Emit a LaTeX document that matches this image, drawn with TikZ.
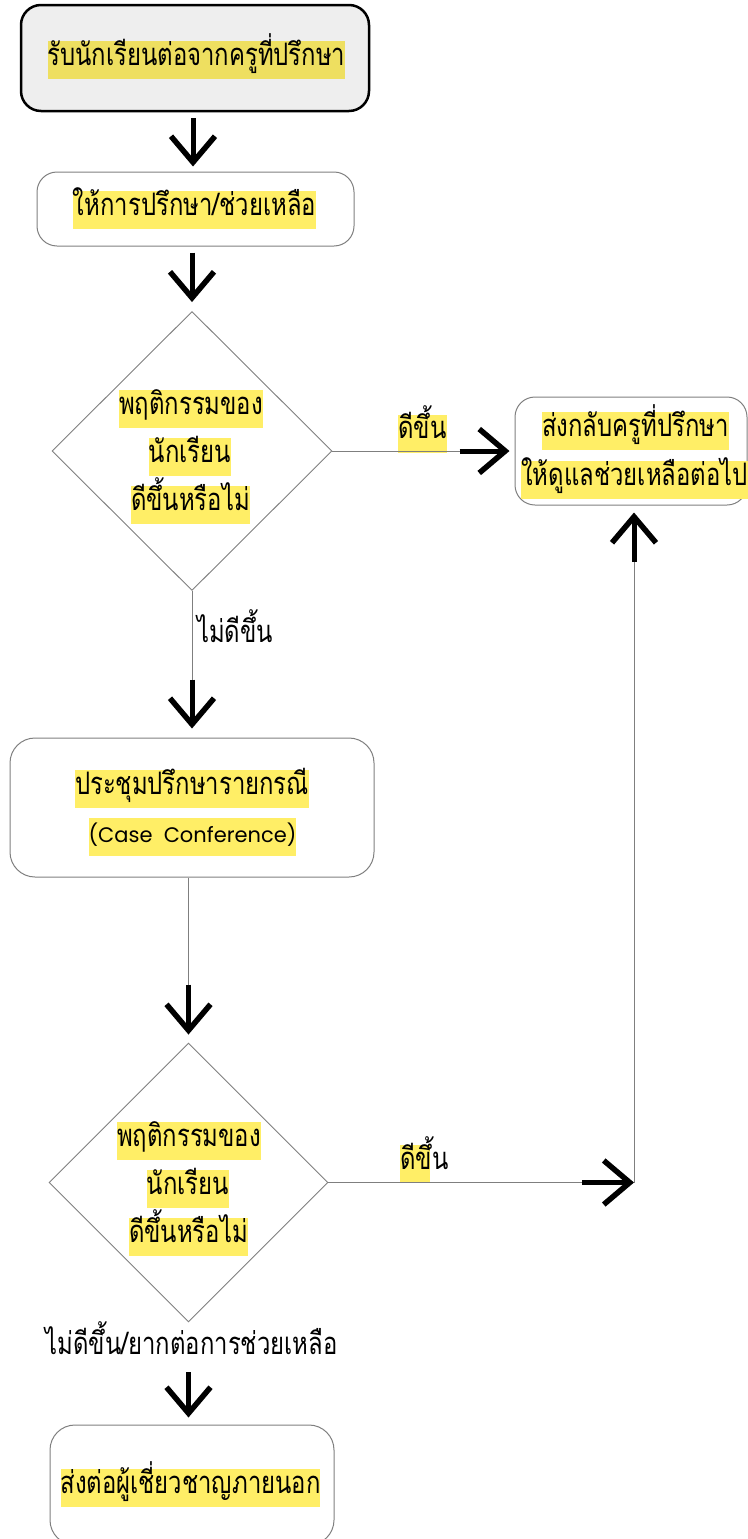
\documentclass[tikz,border=0pt]{standalone}
\usepackage{fontspec}
\setmainfont[Script=Thai,FakeStretch=0.77]{Loma}
\newfontfamily\latinfont{Poppins}
\usetikzlibrary{shapes.geometric,arrows.meta,calc}
\definecolor{hly}{HTML}{FFEE66}
\definecolor{hlg}{HTML}{EEDF60}
\definecolor{boxgray}{HTML}{EEEEEE}
\definecolor{ln}{HTML}{7F7F7F}
\tikzset{
  box/.style={draw=ln, line width=1pt, rounded corners=20pt, inner sep=0pt},
  dia/.style={diamond, draw=ln, line width=0.9pt, inner sep=0pt},
  hl/.style={fill=hly, inner xsep=0pt, inner ysep=0pt, text height=24pt, text depth=14pt, font=\fontsize{31}{37}\selectfont},
  lbl/.style={inner sep=0pt, text height=24pt, text depth=14pt, font=\fontsize{31}{37}\selectfont},
  conn/.style={draw=ln, line width=1pt},
  bigarr/.style={line width=5pt, -{Straight Barb[length=26pt,width=44pt,line width=5.5pt,sharp]}}
}
\begin{document}
\begin{tikzpicture}[x=1pt,y=-1pt]
\useasboundingbox (0,0) rectangle (747,1539);
% boxes
\node[box, draw=black, line width=2.5pt, fill=boxgray, minimum width=348pt, minimum height=106pt] (b1) at (195,58) {};
\node[hl, fill=hlg] (t1) at (196.5,60) {รับนักเรียนต่อจากครูที่ปรึกษา};
\node[box, minimum width=317pt, minimum height=74pt] (b2) at (195.5,209) {};
\node[hl] (t2) at (194.5,210) {ให้การปรึกษา/ช่วยเหลือ};
\node[dia, minimum width=280pt, minimum height=279pt] (d1) at (192,451) {};
\node[hl] (d1a) at (191,409) {พฤติกรรมของ};
\node[hl] (d1b) at (190,457) {นักเรียน};
\node[hl] (d1c) at (190.5,505) {ดีขึ้นหรือไม่};
\node[box, minimum width=232pt, minimum height=108pt] (br) at (631,451) {};
\node[hl] (bra) at (635.5,431) {ส่งกลับครูที่ปรึกษา};
\node[hl] (brb) at (634.5,480) {ให้ดูแลช่วยเหลือต่อไป};
\node[box, rounded corners=25pt, minimum width=364pt, minimum height=139pt] (b3) at (192,807.5) {};
\node[hl] (b3a) at (192,789) {ประชุมปรึกษารายกรณี};
\node[hl, font=\fontsize{21}{25}\latinfont, text height=24pt, text depth=14pt] (b3b) at (192.5,837) {(Case\ \ Conference)};
\node[dia, minimum width=279pt, minimum height=279pt] (d2) at (188.5,1182.5) {};
\node[hl] (d2a) at (189,1141) {พฤติกรรมของ};
\node[hl] (d2b) at (188,1189) {นักเรียน};
\node[hl] (d2c) at (188.5,1237) {ดีขึ้นหรือไม่};
\node[box, rounded corners=25pt, minimum width=284pt, minimum height=120pt] (b4) at (192,1485) {};
\node[hl] (b4a) at (190.5,1488) {ส่งต่อผู้เชี่ยวชาญภายนอก};
% labels
\node[hl] (l1) at (422.5,433.5) {ดีขึ้น};
\node[lbl, anchor=west] (l2) at (197,637) {ไม่ดีขึ้น};
\node[lbl, anchor=west] (l3) at (400,1164) {\makebox[0pt][l]{\color{hly}\rule[-14pt]{30pt}{38pt}}ดีขึ้น};
\node[lbl] (l4) at (191.5,1349) {ไม่ดีขึ้น/ยากต่อการช่วยเหลือ};
% connectors
\draw[bigarr, shorten <=6pt, shorten >=5pt] (b1.south -| 193,0) -- (b2.north -| 193,0);
\draw[bigarr, shorten <=6pt, shorten >=9pt] (b2.south -| d1.north) -- (d1.north);
\draw[conn] (d1.east) -- ($(br.west)+(-55,0)$) coordinate (a3);
\draw[bigarr] (a3) -- ($(br.west)+(-5,0)$);
\draw[conn] (d1.south) -- ($(b3.north -| d1.south)+(0,-58)$) coordinate (a4);
\draw[bigarr] (a4) -- ($(b3.north -| d1.south)+(0,-9)$);
\draw[conn] (b3.south -| d2.north) -- ($(d2.north)+(0,-58)$) coordinate (a5);
\draw[bigarr] (a5) -- ($(d2.north)+(0,-8)$);
\coordinate (c) at (634,1182.5);
\draw[conn] (d2.east) -- ($(c)+(-52,0)$) coordinate (a6);
\draw[bigarr] (a6) -- (c);
\draw[conn] (c) -- ($(br.south -| c)+(0,56)$) coordinate (a7);
\draw[bigarr] (a7) -- ($(br.south -| c)+(0,7)$);
\draw[bigarr] ($(l4.south -| d2.south)+(0,4)$) -- ($(b4.north -| d2.south)+(0,-7)$);
\end{tikzpicture}
\end{document}
